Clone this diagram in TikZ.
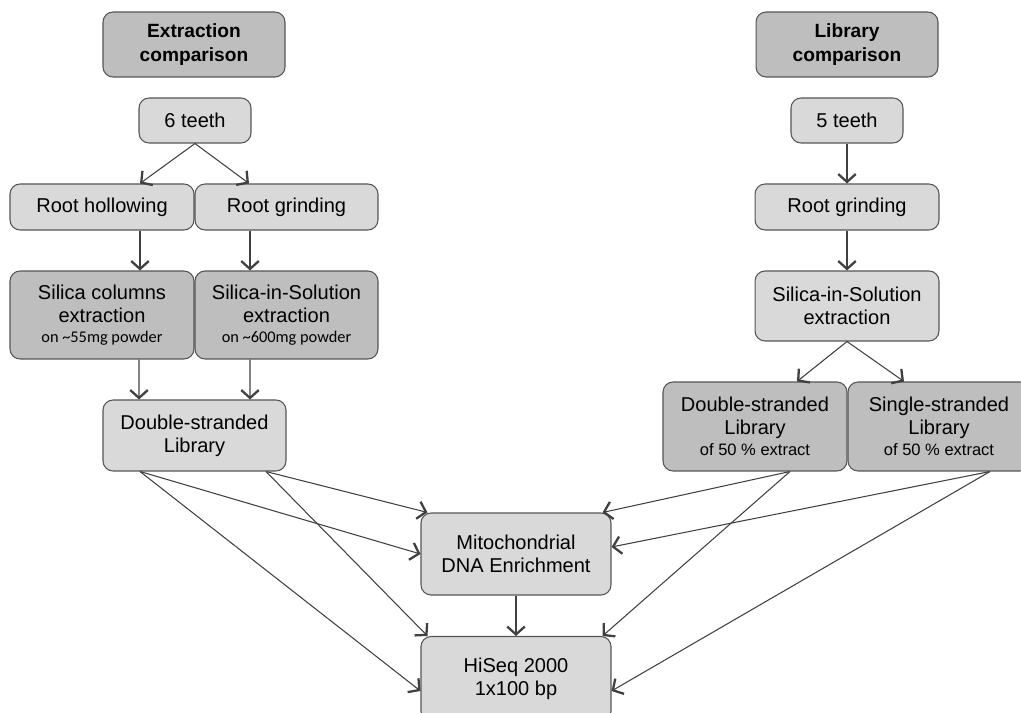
\documentclass[tikz,border=0pt]{standalone}
\usepackage{fontspec}
\setmainfont{Liberation Sans}
\newfontfamily\calfont{Carlito}
\usetikzlibrary{arrows.meta}
\definecolor{boxdark}{RGB}{190,190,190}
\definecolor{boxlight}{RGB}{217,217,217}
\definecolor{edgegray}{RGB}{85,85,85}
\definecolor{arrowgray}{RGB}{64,64,64}
\newcommand*\smallnote[1]{{\calfont\fontsize{9.3}{11}\selectfont #1}}
\newcommand*\halfnote[1]{{\fontsize{9.4}{11}\selectfont #1}}

\begin{document}
\begin{tikzpicture}[x=0.02cm, y=-0.02cm,
        box/.style={draw=edgegray, line width=0.6pt, rounded corners=5.7pt, align=center,
            inner sep=0pt, font=\fontsize{11.4}{13.1}\selectfont},
        light/.style={box, fill=boxlight},
        dark/.style={box, fill=boxdark},
        title/.style={dark, minimum width=3.64cm, minimum height=1.3cm,
            font=\bfseries\fontsize{10.9}{14}\selectfont},
        arr/.style={draw=arrowgray, line width=0.6pt,
            -{Straight Barb[length=4.5pt, width=10pt, line width=1.3pt]}}]
        \useasboundingbox (0,0) rectangle (1021,713);

        \node[title] (extract) at (194,44.5) {Extraction\\comparison};
        \node[title] (library) at (847,44.5) {Library\\comparison};

        \node[light, minimum width=2.24cm, minimum height=0.9cm] (teethA) at (195,120.5) {6 teeth};
        \node[light, minimum width=2.24cm, minimum height=0.9cm] (teethB) at (847,120.5) {5 teeth};

        \node[light, minimum width=3.68cm, minimum height=0.92cm] (hollow) at (102,207) {Root hollowing};
        \node[light, minimum width=3.66cm, minimum height=0.92cm] (grindA) at (286.5,207) {Root grinding};
        \node[light, minimum width=3.68cm, minimum height=0.92cm] (grindB) at (847,207) {Root grinding};

        \node[dark, minimum width=3.68cm, minimum height=1.76cm] (columns) at (102,315)
            {Silica columns\\extraction\\[-1.5pt]\smallnote{on \textasciitilde55mg powder}};
        \node[dark, minimum width=3.66cm, minimum height=1.76cm] (solutionA) at (286.5,315)
            {Silica-in-Solution\\extraction\\[-1.5pt]\smallnote{on \textasciitilde600mg powder}};
        \node[light, minimum width=3.68cm, minimum height=1.4cm] (solutionB) at (847,306)
            {Silica-in-Solution\\extraction};

        \node[light, minimum width=3.66cm, minimum height=1.42cm] (dsA) at (194.5,435.5)
            {Double-stranded\\Library};
        \node[dark, minimum width=3.68cm, minimum height=1.78cm] (dsB) at (755,426.5)
            {Double-stranded\\Library\\[-1.5pt]\halfnote{of 50 \% extract}};
        \node[dark, minimum width=3.64cm, minimum height=1.78cm] (ssB) at (939,426.5)
            {Single-stranded\\Library\\[-1.5pt]\halfnote{of 50 \% extract}};

        \node[light, minimum width=3.8cm, minimum height=1.64cm] (mito) at (516,554)
            {Mitochondrial\\DNA Enrichment};
        \node[light, minimum width=3.8cm, minimum height=1.7cm] (hiseq) at (516,679)
            {HiSeq 2000\\1x100 bp};

        \draw[arr] (teethA.south) -- ([xshift=0.76cm]hollow.north);
        \draw[arr] (teethA.south) -- ([xshift=-0.75cm]grindA.north);
        \draw[arr] ([xshift=0.76cm]hollow.south) -- ([xshift=0.76cm]columns.north);
        \draw[arr] ([xshift=-0.73cm]grindA.south) -- ([xshift=-0.73cm]solutionA.north);
        \draw[arr] ([xshift=0.74cm]columns.south) -- ([xshift=-1.11cm]dsA.north);
        \draw[arr] ([xshift=-0.73cm]solutionA.south) -- ([xshift=1.11cm]dsA.north);

        \draw[arr] (teethB) -- (grindB);
        \draw[arr] (grindB) -- (solutionB);
        \draw[arr] (solutionB.south) -- ([xshift=0.84cm]dsB.north);
        \draw[arr] (solutionB.south) -- ([xshift=-0.7cm]ssB.north);

        \draw[arr] ([xshift=-1.09cm]dsA.south) -- (mito.west);
        \draw[arr] ([xshift=-1.09cm]dsA.south) -- ([yshift=-0.24cm]hiseq.west);
        \draw[arr] ([xshift=1.43cm]dsA.south) -- ([xshift=0.14cm]mito.north west);
        \draw[arr] ([xshift=1.43cm]dsA.south) -- ([xshift=0.14cm]hiseq.north west);
        \draw[arr] ([xshift=0.7cm]dsB.south) -- ([xshift=-0.18cm]mito.north east);
        \draw[arr] ([xshift=0.7cm]dsB.south) -- ([xshift=-0.18cm]hiseq.north east);
        \draw[arr] ([xshift=1.02cm]ssB.south) -- ([yshift=0.14cm]mito.east);
        \draw[arr] ([xshift=1.02cm]ssB.south) -- ([yshift=-0.24cm]hiseq.east);
        \draw[arr] (mito) -- (hiseq);
    \end{tikzpicture}
\end{document}
